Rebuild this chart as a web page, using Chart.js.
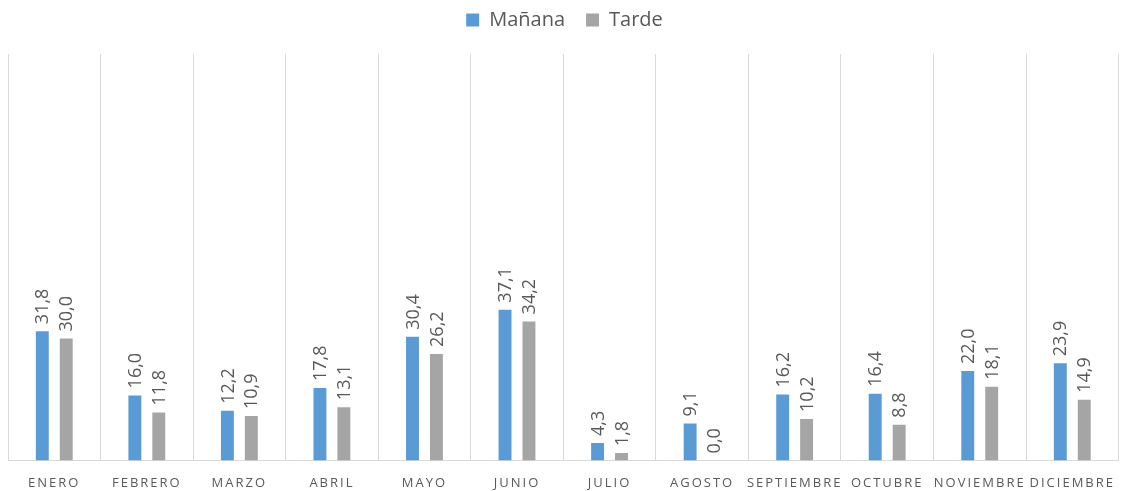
<!DOCTYPE html>
<html>
<head>
<meta charset="utf-8">
<script src="https://cdn.jsdelivr.net/npm/chart.js@4/dist/chart.umd.min.js"></script>
<style>
  html, body { margin: 0; padding: 0; background: #fff; }
  #wrap { width: 1121px; height: 491px; }
</style>
</head>
<body>
<div id="wrap"><canvas id="chart"></canvas></div>
<script>
var meses = ['ENERO','FEBRERO','MARZO','ABRIL','MAYO','JUNIO','JULIO','AGOSTO','SEPTIEMBRE','OCTUBRE','NOVIEMBRE','DICIEMBRE'];
var manana = [31.8, 16.0, 12.2, 17.8, 30.4, 37.1, 4.3, 9.1, 16.2, 16.4, 22.0, 23.9];
var tarde  = [30.0, 11.8, 10.9, 13.1, 26.2, 34.2, 1.8, 0.0, 10.2, 8.8, 18.1, 14.9];

var textColor = '#595959';

// etiquetas de valor giradas sobre cada barra
var etiquetas = {
  id: 'etiquetas',
  afterDatasetsDraw: function(chart){
    var ctx = chart.ctx;
    chart.data.datasets.forEach(function(ds, i){
      var meta = chart.getDatasetMeta(i);
      meta.data.forEach(function(bar, j){
        var txt = ds.data[j].toFixed(1).replace('.', ',');
        ctx.save();
        ctx.letterSpacing = '0px';
        ctx.translate(bar.x + 1, bar.y - 7);
        ctx.rotate(-Math.PI/2);
        ctx.font = '18px "Open Sans"';
        ctx.fillStyle = textColor;
        ctx.textAlign = 'left';
        ctx.textBaseline = 'middle';
        ctx.fillText(txt, 0, 0);
        ctx.restore();
      });
    });
  }
};

// espaciado entre letras solo en los meses
var espaciado = {
  id: 'espaciado',
  afterLayout: function(chart){
    var s = chart.scales.x;
    if (s._espaciado) return;
    var orig = s.drawLabels;
    s.drawLabels = function(area){
      this.ctx.save();
      this.ctx.letterSpacing = '2px';
      orig.call(this, area);
      this.ctx.restore();
    };
    s._espaciado = true;
  }
};

// mas aire bajo la leyenda
var aireLeyenda = {
  id: 'aireLeyenda',
  beforeInit: function(chart){
    var fit = chart.legend.fit;
    chart.legend.fit = function(){
      fit.call(this);
      this.height += 14;
    };
  }
};

new Chart(document.getElementById('chart'), {
  type: 'bar',
  data: {
    labels: meses,
    datasets: [
      { label: 'Mañana', data: manana, backgroundColor: '#5B9BD5', categoryPercentage: 0.517, barPercentage: 0.54 },
      { label: 'Tarde', data: tarde, backgroundColor: '#A5A5A5', categoryPercentage: 0.517, barPercentage: 0.54 }
    ]
  },
  options: {
    responsive: true,
    maintainAspectRatio: false,
    animation: false,
    layout: { padding: { left: 8, right: 0, top: -11, bottom: -15 } },
    plugins: {
      legend: {
        position: 'top',
        labels: {
          boxWidth: 13, boxHeight: 13, padding: 21,
          color: textColor,
          font: { family: '"Open Sans"', size: 20 }
        }
      },
      tooltip: { enabled: false }
    },
    scales: {
      x: {
        grid: { color: '#d9d9d9', offset: true, drawTicks: false },
        border: { color: '#d9d9d9' },
        ticks: {
          color: textColor, padding: 15, maxRotation: 0, autoSkip: false,
          font: { family: '"Open Sans"', size: 13 }
        }
      },
      y: { display: false, min: 0, max: 100 }
    }
  },
  plugins: [etiquetas, espaciado, aireLeyenda]
});
</script>
</body>
</html>
